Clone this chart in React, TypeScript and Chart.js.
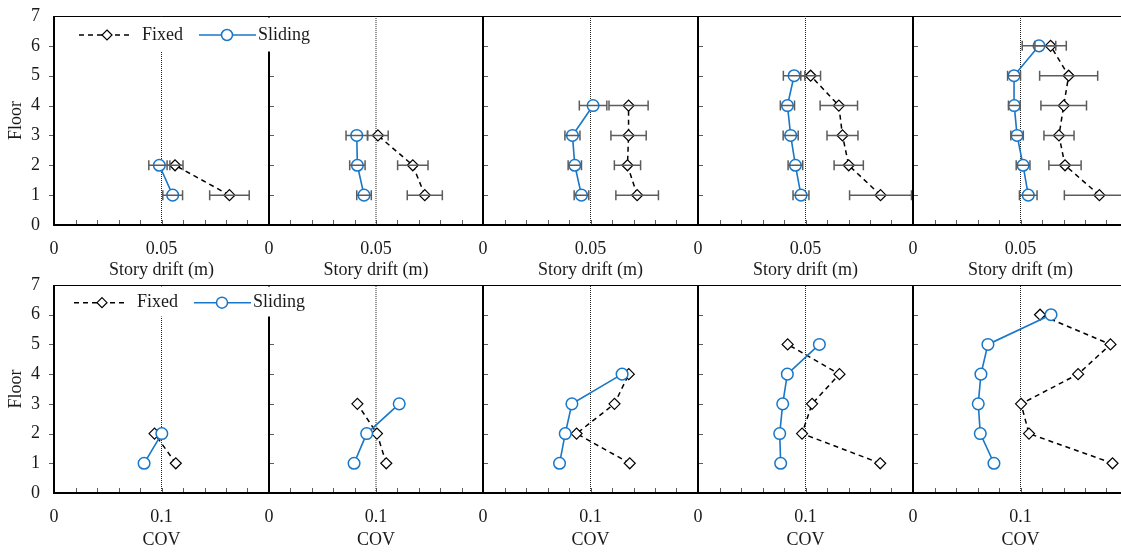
import React, { useEffect, useRef } from "react";
import { Chart, registerables } from "chart.js";

Chart.register(...registerables);

// ---------- axis / tick data ----------
const floorTicks = [0, 1, 2, 3, 4, 5, 6, 7];
const floorMarks = [1, 2, 3, 4, 5, 6];
const floorMax = 7;

const driftTicks = [0, 0.05];
const driftTickText = ["0", "0.05"];
const driftMinor = [0.01, 0.02, 0.03, 0.04, 0.05, 0.06, 0.07, 0.08, 0.09];
const driftRef = 0.05;
const driftMax = 0.1;

const covTicks = [0, 0.1];
const covTickText = ["0", "0.1"];
const covMinor = [0.02, 0.04, 0.06, 0.08, 0.1, 0.12, 0.14, 0.16, 0.18];
const covRef = 0.1;
const covMax = 0.2;

const seriesNames = ["Fixed", "Sliding"];
const xTitles = ["Story drift (m)", "COV"];
const yTitle = "Floor";

// ---------- floors per building ----------
const floors2 = [1, 2];
const floors3 = [1, 2, 3];
const floors4 = [1, 2, 3, 4];
const floors5 = [1, 2, 3, 4, 5];
const floors6 = [1, 2, 3, 4, 5, 6];

// ---------- story drift (m): mean and +/- spread ----------
const driftFixed2 = [0.0816, 0.0563];
const driftFixedErr2 = [0.0092, 0.0037];
const driftSliding2 = [0.0552, 0.049];
const driftSlidingErr2 = [0.0046, 0.0049];

const driftFixed3 = [0.0728, 0.0672, 0.0509];
const driftFixedErr3 = [0.0082, 0.0071, 0.0048];
const driftSliding3 = [0.0444, 0.0413, 0.041];
const driftSlidingErr3 = [0.0034, 0.0036, 0.005];

const driftFixed4 = [0.0717, 0.0672, 0.0677, 0.0677];
const driftFixedErr4 = [0.0099, 0.0061, 0.0082, 0.0091];
const driftSliding4 = [0.0458, 0.0427, 0.0416, 0.0512];
const driftSlidingErr4 = [0.0034, 0.0031, 0.0035, 0.0064];

const driftFixed5 = [0.0849, 0.0701, 0.0672, 0.0655, 0.0524];
const driftFixedErr5 = [0.0144, 0.0068, 0.0072, 0.0087, 0.0046];
const driftSliding5 = [0.0479, 0.0453, 0.0431, 0.0416, 0.0447];
const driftSlidingErr5 = [0.0037, 0.0034, 0.0035, 0.0033, 0.005];

const driftFixed6 = [0.0867, 0.0707, 0.0679, 0.0701, 0.0724, 0.064];
const driftFixedErr6 = [0.0163, 0.0075, 0.007, 0.0106, 0.0135, 0.0073];
const driftSliding6 = [0.0536, 0.0512, 0.0484, 0.0471, 0.047, 0.0586];
const driftSlidingErr6 = [0.0041, 0.0032, 0.0029, 0.0027, 0.003, 0.0078];

// ---------- COV ----------
const covFixed2 = [0.1133, 0.0935];
const covSliding2 = [0.0838, 0.1003];
const covFixed3 = [0.1096, 0.1009, 0.0826];
const covSliding3 = [0.0795, 0.0913, 0.1217];
const covFixed4 = [0.1365, 0.087, 0.1223, 0.1356];
const covSliding4 = [0.0712, 0.0765, 0.0827, 0.1294];
const covFixed5 = [0.1695, 0.0968, 0.1061, 0.1316, 0.0834];
const covSliding5 = [0.0769, 0.076, 0.0788, 0.0831, 0.1129];
const covFixed6 = [0.1856, 0.1079, 0.1005, 0.1536, 0.1837, 0.1182];
const covSliding6 = [0.0753, 0.0626, 0.0607, 0.0632, 0.0697, 0.1284];

// ---------- styling / layout ----------
const FONT = '"Liberation Serif", "Times New Roman", serif';
const TEXT = "#1a1a1a";
const BLUE = "#1877c9";
const GRAY = "#5c5c5c";
const colEdges = [54, 269, 483, 698, 913, 1128];
const rows = [
  { canvasTop: 0, canvasH: 282, plotTop: 16, plotBottom: 225, legendDx: 25, legendDy: 19, legendH: 34 },
  { canvasTop: 270, canvasH: 282, plotTop: 285, plotBottom: 493, legendDx: 20, legendDy: 17.7, legendH: 30 },
];

type PanelProps = {
  row: number;
  col: number;
  floors: number[];
  fixed: number[];
  sliding: number[];
  fixedErr?: number[];
  slidingErr?: number[];
};

const decoPlugin = {
  id: "panelDeco",
  beforeDatasetsDraw(chart: any, _a: any, opts: any) {
    const { ctx, chartArea: a, scales } = chart;
    const xs = scales.x;
    const ys = scales.y;
    ctx.save();
    ctx.strokeStyle = GRAY;
    ctx.lineWidth = 1;
    for (const v of opts.xMinor) {
      const px = Math.round(xs.getPixelForValue(v)) + 0.5;
      ctx.beginPath();
      ctx.moveTo(px, a.bottom);
      ctx.lineTo(px, a.bottom - 5);
      ctx.stroke();
    }
    for (const v of floorMarks) {
      const py = Math.round(ys.getPixelForValue(v)) + 0.5;
      ctx.beginPath();
      if (opts.outward) {
        ctx.moveTo(a.left - 5, py);
        ctx.lineTo(a.left, py);
      } else {
        ctx.moveTo(a.left, py);
        ctx.lineTo(a.left + 5, py);
      }
      ctx.stroke();
    }
    ctx.strokeStyle = "#000";
    ctx.lineWidth = 1;
    ctx.beginPath();
    ctx.moveTo(a.left, a.top + 0.5);
    ctx.lineTo(a.right, a.top + 0.5);
    ctx.stroke();
    ctx.lineWidth = 2;
    ctx.beginPath();
    ctx.moveTo(a.left, a.top);
    ctx.lineTo(a.left, a.bottom);
    ctx.lineTo(a.right, a.bottom);
    ctx.stroke();
    ctx.restore();
  },
  afterDatasetsDraw(chart: any) {
    const { ctx, scales } = chart;
    const xs = scales.x;
    const ys = scales.y;
    ctx.save();
    ctx.strokeStyle = GRAY;
    ctx.lineWidth = 1.5;
    chart.data.datasets.forEach((ds: any) => {
      if (!ds.errorBars) return;
      ds.data.forEach((pt: any, i: number) => {
        const e = ds.errorBars[i];
        const x1 = xs.getPixelForValue(pt.x - e);
        const x2 = xs.getPixelForValue(pt.x + e);
        const py = ys.getPixelForValue(pt.y);
        ctx.beginPath();
        ctx.moveTo(x1, py);
        ctx.lineTo(x2, py);
        ctx.moveTo(x1, py - 5);
        ctx.lineTo(x1, py + 5);
        ctx.moveTo(x2, py - 5);
        ctx.lineTo(x2, py + 5);
        ctx.stroke();
      });
    });
    ctx.restore();
  },
  afterDraw(chart: any, _a: any, opts: any) {
    if (!opts.legend) return;
    const { ctx, chartArea: a } = chart;
    const lg = opts.legend;
    ctx.save();
    ctx.fillStyle = "#fff";
    ctx.fillRect(a.left + 6, a.top + 1.5, 258, lg.h);
    const y = a.top + lg.dy;
    const x0 = a.left + lg.dx;
    // Fixed
    ctx.strokeStyle = "#000";
    ctx.lineWidth = 1.5;
    ctx.setLineDash([5, 4]);
    ctx.beginPath();
    ctx.moveTo(x0, y);
    ctx.lineTo(x0 + 50, y);
    ctx.stroke();
    ctx.setLineDash([]);
    const dx = x0 + 28;
    const r = 5;
    ctx.fillStyle = "#fff";
    ctx.lineWidth = 1.2;
    ctx.beginPath();
    ctx.moveTo(dx, y - r);
    ctx.lineTo(dx + r, y);
    ctx.lineTo(dx, y + r);
    ctx.lineTo(dx - r, y);
    ctx.closePath();
    ctx.fill();
    ctx.stroke();
    ctx.fillStyle = TEXT;
    ctx.font = `18px ${FONT}`;
    ctx.textBaseline = "middle";
    ctx.textAlign = "left";
    ctx.fillText(seriesNames[0], x0 + 63, y);
    // Sliding
    ctx.strokeStyle = BLUE;
    ctx.lineWidth = 1.6;
    ctx.beginPath();
    ctx.moveTo(x0 + 120, y);
    ctx.lineTo(x0 + 177, y);
    ctx.stroke();
    ctx.fillStyle = "#fff";
    ctx.lineWidth = 1.5;
    ctx.beginPath();
    ctx.arc(x0 + 148, y, 5.5, 0, Math.PI * 2);
    ctx.fill();
    ctx.stroke();
    ctx.fillStyle = TEXT;
    ctx.fillText(seriesNames[1], x0 + 179, y);
    ctx.restore();
  },
};

function Panel(p: PanelProps) {
  const ref = useRef<HTMLCanvasElement>(null);
  const rw = rows[p.row];
  const L = colEdges[p.col];
  const R = colEdges[p.col + 1];
  const canvasLeft = p.col === 0 ? 0 : L - 20;
  const canvasW = p.col === 0 ? 340 : R - L + 30;
  const padLeft = p.col === 0 ? 0 : 20;
  const padRight = canvasW - (R - canvasLeft);
  const isDrift = p.row === 0;

  useEffect(() => {
    const font = { family: FONT, size: 18 };
    const refVal = isDrift ? driftRef : covRef;
    const tickVals = isDrift ? driftTicks : covTicks;
    const tickText = isDrift ? driftTickText : covTickText;
    const datasets: any[] = [
      {
        label: seriesNames[1],
        data: p.floors.map((f, i) => ({ x: p.sliding[i], y: f })),
        showLine: true,
        borderColor: BLUE,
        borderWidth: 1.6,
        pointStyle: "circle",
        pointRadius: 5.8,
        pointBorderWidth: 1.5,
        pointBorderColor: BLUE,
        pointBackgroundColor: "#fff",
        errorBars: p.slidingErr,
      },
      {
        label: seriesNames[0],
        data: p.floors.map((f, i) => ({ x: p.fixed[i], y: f })),
        showLine: true,
        borderColor: "#000",
        borderWidth: 1.5,
        borderDash: [5, 4],
        pointStyle: "rectRot",
        pointRadius: 5.5,
        pointBorderWidth: 1.2,
        pointBorderColor: "#000",
        pointBackgroundColor: "#fff",
        errorBars: p.fixedErr,
      },
      {
        label: "ref",
        data: [
          { x: refVal, y: 0 },
          { x: refVal, y: floorMax },
        ],
        showLine: true,
        borderColor: "#222",
        borderWidth: 1,
        borderDash: [1, 1],
        pointRadius: 0,
      },
    ];
    const chart = new Chart(ref.current as HTMLCanvasElement, {
      type: "scatter",
      data: { datasets },
      plugins: [decoPlugin as any],
      options: {
        responsive: false,
        animation: false,
        events: [],
        layout: {
          padding: { left: padLeft, right: padRight, top: rw.plotTop - rw.canvasTop, bottom: 0 },
        },
        plugins: {
          legend: { display: false },
          tooltip: { enabled: false },
          panelDeco: {
            xMinor: isDrift ? driftMinor : covMinor,
            outward: p.col === 0,
            legend: p.col === 0 ? { dx: rw.legendDx, dy: rw.legendDy, h: rw.legendH } : null,
          },
        } as any,
        scales: {
          x: {
            type: "linear",
            min: 0,
            max: isDrift ? driftMax : covMax,
            grid: { display: false, drawTicks: false },
            border: { display: false },
            afterBuildTicks: (s: any) => {
              s.ticks = tickVals.map((v) => ({ value: v }));
            },
            afterFit: (s: any) => {
              s.height = rw.canvasH - (rw.plotBottom - rw.canvasTop);
            },
            ticks: {
              autoSkip: false,
              maxRotation: 0,
              padding: 13.5,
              color: TEXT,
              font,
              callback: (_v: any, i: number) => tickText[i],
            },
            title: {
              display: true,
              text: xTitles[p.row],
              color: TEXT,
              font,
              padding: { top: 0, bottom: 1 },
            },
          },
          y: {
            type: "linear",
            min: 0,
            max: floorMax,
            display: p.col === 0,
            grid: { display: false, drawTicks: true, tickLength: 11 },
            border: { display: false },
            afterBuildTicks: (s: any) => {
              s.ticks = floorTicks.map((v) => ({ value: v }));
            },
            afterFit: (s: any) => {
              s.width = p.col === 0 ? colEdges[0] : 0;
            },
            ticks: { padding: 3, color: TEXT, font },
            title: {
              display: true,
              text: yTitle,
              color: TEXT,
              font,
              padding: { top: 5, bottom: 0 },
            },
          },
        },
      } as any,
    });
    return () => chart.destroy();
  }, []);

  return (
    <canvas
      ref={ref}
      width={canvasW}
      height={rw.canvasH}
      style={{
        position: "absolute",
        left: canvasLeft,
        top: rw.canvasTop,
        width: canvasW,
        height: rw.canvasH,
        zIndex: p.col === 0 ? 3 : 1,
      }}
    />
  );
}

export default function App() {
  return (
    <div
      style={{
        position: "fixed",
        left: 0,
        top: 0,
        width: 1121,
        height: 552,
        overflow: "hidden",
        background: "#fff",
      }}
    >
      <Panel row={0} col={0} floors={floors2} fixed={driftFixed2} fixedErr={driftFixedErr2} sliding={driftSliding2} slidingErr={driftSlidingErr2} />
      <Panel row={0} col={1} floors={floors3} fixed={driftFixed3} fixedErr={driftFixedErr3} sliding={driftSliding3} slidingErr={driftSlidingErr3} />
      <Panel row={0} col={2} floors={floors4} fixed={driftFixed4} fixedErr={driftFixedErr4} sliding={driftSliding4} slidingErr={driftSlidingErr4} />
      <Panel row={0} col={3} floors={floors5} fixed={driftFixed5} fixedErr={driftFixedErr5} sliding={driftSliding5} slidingErr={driftSlidingErr5} />
      <Panel row={0} col={4} floors={floors6} fixed={driftFixed6} fixedErr={driftFixedErr6} sliding={driftSliding6} slidingErr={driftSlidingErr6} />
      <Panel row={1} col={0} floors={floors2} fixed={covFixed2} sliding={covSliding2} />
      <Panel row={1} col={1} floors={floors3} fixed={covFixed3} sliding={covSliding3} />
      <Panel row={1} col={2} floors={floors4} fixed={covFixed4} sliding={covSliding4} />
      <Panel row={1} col={3} floors={floors5} fixed={covFixed5} sliding={covSliding5} />
      <Panel row={1} col={4} floors={floors6} fixed={covFixed6} sliding={covSliding6} />
    </div>
  );
}
